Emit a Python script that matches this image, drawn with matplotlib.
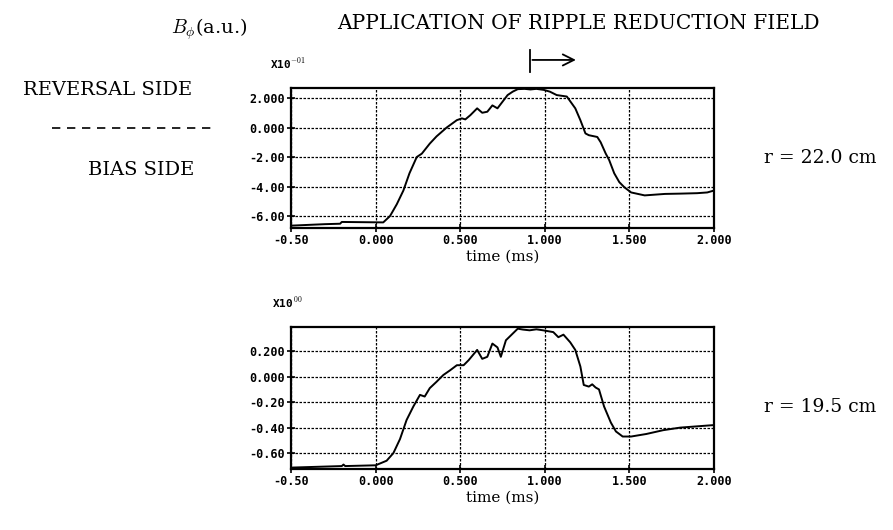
import matplotlib
matplotlib.use("Agg")
import matplotlib.pyplot as plt

# B_phi probe traces, time in ms
t_outer = [-0.50, -0.30, -0.21, -0.20, 0.045, 0.085, 0.125, 0.164, 0.20, 0.243, 0.273,
           0.32, 0.36, 0.42, 0.48, 0.51, 0.53, 0.56, 0.60, 0.63, 0.66, 0.69, 0.72,
           0.75, 0.78, 0.81, 0.84, 0.88, 0.915, 0.95, 0.994, 1.03, 1.07, 1.13, 1.18,
           1.21, 1.24, 1.26, 1.31, 1.33, 1.36, 1.38, 1.41, 1.44, 1.47, 1.51, 1.55,
           1.59, 1.65, 1.71, 1.80, 1.90, 1.96, 2.00]
b_outer = [-6.65, -6.55, -6.52, -6.40, -6.43, -6.00, -5.20, -4.27, -3.10, -2.00, -1.77,
           -1.09, -0.60, 0.00, 0.50, 0.62, 0.55, 0.84, 1.30, 1.00, 1.07, 1.50, 1.30,
           1.75, 2.20, 2.43, 2.60, 2.62, 2.58, 2.62, 2.55, 2.43, 2.20, 2.10, 1.30,
           0.50, -0.40, -0.52, -0.64, -1.00, -1.77, -2.20, -3.10, -3.70, -4.05, -4.40, -4.50,
           -4.60, -4.55, -4.50, -4.48, -4.45, -4.40, -4.27]

t_inner = [-0.50, -0.20, -0.19, -0.18, 0.00, 0.065, 0.105, 0.144, 0.183, 0.223, 0.262,
           0.29, 0.32, 0.36, 0.40, 0.44, 0.48, 0.52, 0.55, 0.60, 0.63, 0.66, 0.69,
           0.72, 0.74, 0.77, 0.80, 0.84, 0.87, 0.91, 0.95, 0.99, 1.05, 1.08, 1.11,
           1.15, 1.18, 1.21, 1.23, 1.26, 1.28, 1.30, 1.32, 1.35, 1.39, 1.42, 1.46,
           1.51, 1.60, 1.70, 1.80, 1.90, 2.00]
b_inner = [-0.714, -0.702, -0.690, -0.702, -0.696, -0.66, -0.60, -0.49, -0.34, -0.234, -0.143,
           -0.156, -0.09, -0.04, 0.013, 0.05, 0.09, 0.09, 0.13, 0.21, 0.14, 0.156, 0.26,
           0.23, 0.156, 0.286, 0.325, 0.377, 0.37, 0.364, 0.372, 0.364, 0.35, 0.31, 0.33,
           0.27, 0.21, 0.08, -0.065, -0.078, -0.06, -0.085, -0.10, -0.234, -0.36, -0.43, -0.47,
           -0.47, -0.45, -0.42, -0.40, -0.39, -0.38]

x_ticks = [-0.5, 0.0, 0.5, 1.0, 1.5, 2.0]
x_labels = ["-0.50", "0.000", "0.500", "1.000", "1.500", "2.000"]
y_ticks_outer = [2.0, 0.0, -2.0, -4.0, -6.0]
y_labels_outer = ["2.000", "0.000", "-2.00", "-4.00", "-6.00"]
y_ticks_inner = [0.2, 0.0, -0.2, -0.4, -0.6]
y_labels_inner = ["0.200", "0.000", "-0.20", "-0.40", "-0.60"]

plt.rcParams['mathtext.fontset'] = 'cm'
serif = "DejaVu Serif"
mono = dict(family="DejaVu Sans Mono", weight="bold", size=8.5)

fig = plt.figure(figsize=(8.93, 5.30), dpi=100)
ax1 = fig.add_axes([0.3259, 0.5698, 0.4737, 0.2642])
ax2 = fig.add_axes([0.3259, 0.1151, 0.4737, 0.2679])


def style(ax, yt, yl, ylim, scale):
    ax.set_xlim(-0.5, 2.0)
    ax.set_ylim(*ylim)
    ax.set_xticks(x_ticks)
    ax.set_xticklabels(x_labels, fontdict=mono)
    ax.set_yticks(yt)
    ax.set_yticklabels(yl, fontdict=mono)
    ax.tick_params(direction="inout", length=6, width=1.2, pad=1.5, colors="black")
    ax.grid(True, color="black", linestyle=(0, (2, 1.2)), linewidth=0.9)
    for s in ax.spines.values():
        s.set_linewidth(1.6)
    ax.set_xlabel("time (ms)", family=serif, fontsize=11, labelpad=2)
    ax.text(-0.008, 1.12, scale, transform=ax.transAxes, ha="center", va="bottom",
            family="DejaVu Sans Mono", weight="bold", size=8)


style(ax1, y_ticks_outer, y_labels_outer, (-6.81, 2.68), r"X10$^{\mathbf{-01}}$")
style(ax2, y_ticks_inner, y_labels_inner, (-0.725, 0.39), r"X10$^{\,\mathbf{00}}$")

ax1.plot(t_outer, b_outer, color="black", lw=1.4)
ax2.plot(t_inner, b_inner, color="black", lw=1.4)

# start of the ripple reduction field
ax1.plot([0.91, 0.91], [3.76, 5.25], color="black", lw=1.3, clip_on=False)
ax1.annotate("", xy=(1.2, 4.58), xytext=(0.91, 4.58), xycoords="data",
             arrowprops=dict(arrowstyle="->", color="black", lw=1.3, mutation_scale=20),
             annotation_clip=False)

fig.text(0.192, 0.945, r"$B_{\phi}$(a.u.)", family=serif, fontsize=14, va="center")
fig.text(0.378, 0.955, "APPLICATION OF RIPPLE REDUCTION FIELD", family=serif,
         fontsize=14.5, va="center")
fig.text(0.12, 0.83, "REVERSAL SIDE", family=serif, fontsize=14, va="center", ha="center")
fig.add_artist(plt.Line2D([0.058, 0.237], [0.758, 0.758], color="black", lw=1.2,
                          linestyle=(0, (5, 4)), transform=fig.transFigure))
fig.text(0.158, 0.68, "BIAS SIDE", family=serif, fontsize=14, va="center", ha="center")
fig.text(0.856, 0.702, "r = 22.0 cm", family=serif, fontsize=13.5, va="center")
fig.text(0.856, 0.232, "r = 19.5 cm", family=serif, fontsize=13.5, va="center")

fig.savefig("out.png", dpi=100)
